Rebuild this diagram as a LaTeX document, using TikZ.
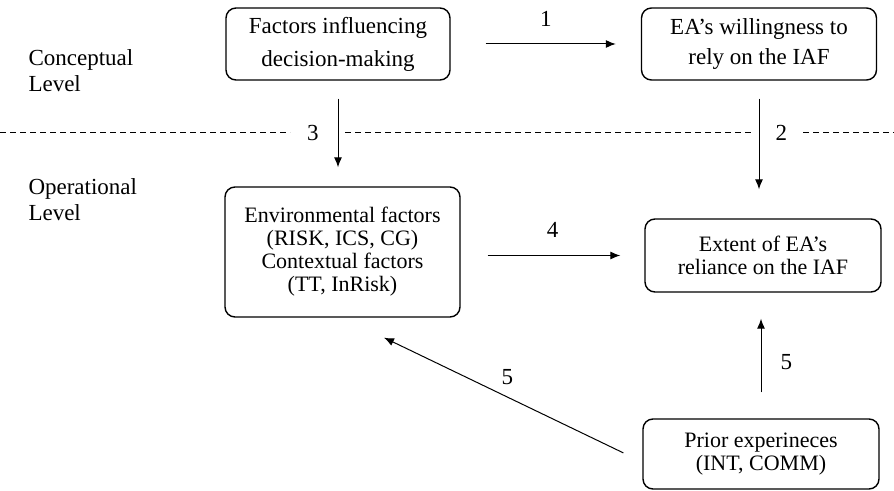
\documentclass[tikz,border=0pt]{standalone}
\usepackage{fontspec}
\setmainfont{Liberation Serif}
\usepackage{tikz}
\usetikzlibrary{arrows.meta, positioning}

\tikzset{
    box/.style={draw, rounded corners=5pt, align=center, inner sep=0pt, line width=0.7pt},
    num/.style={inner sep=0pt, font=\fontsize{11.5}{13}\selectfont},
    lvl/.style={align=left, inner sep=0pt, anchor=west, font=\fontsize{11.5}{13}\selectfont}
}

\begin{document}
\begin{tikzpicture}[>={Latex[length=5pt, width=4pt]}, x=0.5pt, y=-0.5pt, line width=0.5pt]
    \useasboundingbox (0,0) rectangle (894,491);

    % Các mức
    \node[lvl] (conc) at (28,71) {Conceptual\\Level};
    \node[lvl] (oper) at (28,200) {Operational\\Level};

    % Đường phân cách
    \draw[dash pattern=on 3pt off 2pt] (0,133) -- (290,133) (345,133) -- (752,133) (803,133) -- (894,133);

    % Các hộp
    \node[box, minimum width=112pt, minimum height=36pt, font=\fontsize{11.5}{16.5}\selectfont]
        (factors) at (338,44) {Factors influencing\\decision-making};
    \node[box, minimum width=117.5pt, minimum height=36pt, font=\fontsize{11.5}{15}\selectfont]
        (willing) at (759,44) {EA's willingness to\\rely on the IAF};
    \node[box, minimum width=117.5pt, minimum height=65pt, font=\fontsize{11}{11.5}\selectfont]
        (env) at (342.5,252) {Environmental factors\\(RISK, ICS, CG)\\Contextual factors\\(TT, InRisk)};
    \node[box, minimum width=118pt, minimum height=36.5pt, font=\fontsize{11}{11.5}\selectfont]
        (extent) at (763,255.5) {Extent of EA's\\reliance on the IAF};
    \node[box, minimum width=118pt, minimum height=35pt, font=\fontsize{11}{11.5}\selectfont]
        (prior) at (761,454) {Prior experineces\\(INT, COMM)};

    % Các mũi tên
    \draw[->, shorten <=17.5pt, shorten >=12.5pt] (factors.east) -- node[num, above=8.5pt] (n1) {1} (willing.west);
    \draw[->, shorten <=9pt, shorten >=9.5pt] (factors.south) -- node[num, left=9.5pt] (n3) {3} (factors.south |- env.north);
    \draw[->, shorten <=9pt, shorten >=14.5pt] (willing.south) -- node[num, pos=.38, right=8pt] (n2) {2} (willing.south |- extent.north);
    \draw[->, shorten <=13.5pt, shorten >=12pt] (env.east |- extent.west) -- node[num, above=8.8pt] (n4) {4} (extent.west);
    \draw[->, shorten <=13pt, shorten >=13pt] (prior.north) -- node[num, pos=.45, right=9.5pt] (n5a) {5} (prior.north |- extent.south);
    \draw[->, shorten <=10.5pt, shorten >=23pt] ([yshift=-4pt]prior.west) -- node[num, pos=.45, above=6pt] (n5b) {5} (env.south);

\end{tikzpicture}
\end{document}
